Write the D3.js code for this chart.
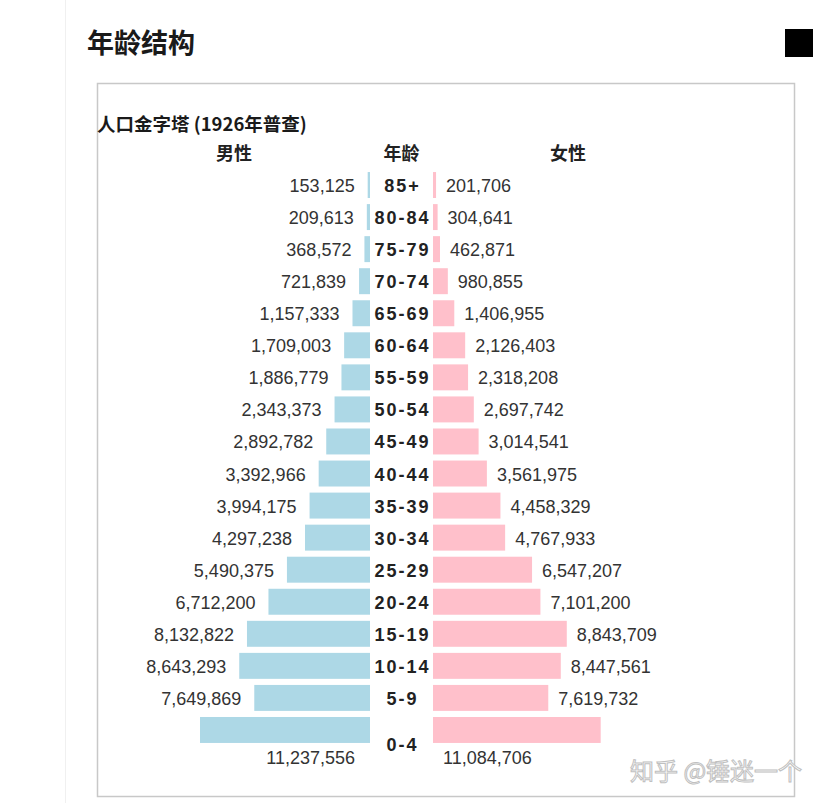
<!DOCTYPE html>
<html>
<head>
<meta charset="utf-8">
<script src="https://cdn.jsdelivr.net/npm/d3@7"></script>
<style>
  html, body { margin: 0; padding: 0; background: #fff; }
  svg { display: block; }
</style>
</head>
<body>
<svg id="chart" width="828" height="803"></svg>
<script>
const ages = ["85+","80-84","75-79","70-74","65-69","60-64","55-59","50-54","45-49","40-44","35-39","30-34","25-29","20-24","15-19","10-14","5-9","0-4"];
const male = [153125,209613,368572,721839,1157333,1709003,1886779,2343373,2892782,3392966,3994175,4297238,5490375,6712200,8132822,8643293,7649869,11237556];
const female = [201706,304641,462871,980855,1406955,2126403,2318208,2697742,3014541,3561975,4458329,4767933,6547207,7101200,8843709,8447561,7619732,11084706];
const pageTitle = "年龄结构";
const chartTitle = "人口金字塔 (1926年普查)";
const headers = ["男性", "年龄", "女性"];
const watermark = "知乎 @锤迷一个";

const FONT = "'Liberation Sans', 'Noto Sans CJK SC', sans-serif";
const CJK = "'Noto Sans CJK SC', 'Liberation Sans', sans-serif";

const svg = d3.select("#chart");

// faint page column line
svg.append("line").attr("x1", 65.5).attr("x2", 65.5).attr("y1", 0).attr("y2", 803)
  .attr("stroke", "#f0f0f0").attr("stroke-width", 1);

// page title
svg.append("text").attr("x", 87).attr("y", 53)
  .attr("font-family", CJK).attr("font-size", 27).attr("font-weight", 700)
  .attr("fill", "#1a1a1a").text(pageTitle);

// black square
svg.append("rect").attr("x", 785).attr("y", 29).attr("width", 28).attr("height", 28).attr("fill", "#000");

// box
svg.append("rect").attr("x", 97.5).attr("y", 83.5).attr("width", 697).attr("height", 713)
  .attr("fill", "none").attr("stroke", "#c8c8c8").attr("stroke-width", 1.5);

// chart title
svg.append("text").attr("x", 97).attr("y", 131)
  .attr("font-family", CJK).attr("font-size", 18.5).attr("font-weight", 700)
  .attr("fill", "#1a1a1a").text(chartTitle);

const maleEdge = 370, femaleEdge = 433, centerX = 401.5;
const xMale = d3.scaleLinear().domain([0, 11237556]).range([maleEdge, maleEdge - 170]);
const xFemale = d3.scaleLinear().domain([0, 11237556]).range([femaleEdge, femaleEdge + 170]);
const y = d3.scaleBand().domain(ages).range([169, 746]).paddingInner(0.19).paddingOuter(0.095);

// headers
const hx = [234, centerX, 568];
svg.selectAll("text.hdr").data(headers).enter().append("text").attr("class", "hdr")
  .attr("x", (d, i) => hx[i]).attr("y", 160).attr("text-anchor", "middle")
  .attr("font-family", CJK).attr("font-size", 18).attr("font-weight", 600)
  .attr("fill", "#222").text(d => d);

const rows = ages.map((a, i) => ({ age: a, m: male[i], f: female[i], last: i === ages.length - 1 }));
const fmt = d3.format(",");

const g = svg.append("g");
g.selectAll("rect.m").data(rows).enter().append("rect").attr("class", "m")
  .attr("x", d => xMale(d.m)).attr("width", d => maleEdge - xMale(d.m))
  .attr("y", d => y(d.age)).attr("height", y.bandwidth()).attr("fill", "#add8e6");
g.selectAll("rect.f").data(rows).enter().append("rect").attr("class", "f")
  .attr("x", femaleEdge).attr("width", d => xFemale(d.f) - femaleEdge)
  .attr("y", d => y(d.age)).attr("height", y.bandwidth()).attr("fill", "#ffc0cb");

const cy = d => y(d.age) + y.bandwidth() / 2;

// age labels
g.selectAll("text.age").data(rows).enter().append("text").attr("class", "age")
  .attr("x", centerX + 1).attr("y", d => d.last ? cy(d) + 21 : cy(d) + 7)
  .attr("text-anchor", "middle").attr("font-family", FONT).attr("font-size", 18).attr("font-weight", 700)
  .attr("letter-spacing", 2).attr("fill", "#222").text(d => d.age);

// male values
g.selectAll("text.mv").data(rows).enter().append("text").attr("class", "mv")
  .attr("x", d => d.last ? maleEdge - 15 : xMale(d.m) - 13)
  .attr("y", d => d.last ? cy(d) + 34 : cy(d) + 7)
  .attr("text-anchor", "end").attr("font-family", FONT).attr("font-size", 18)
  .attr("fill", "#333").text(d => fmt(d.m));

// female values
g.selectAll("text.fv").data(rows).enter().append("text").attr("class", "fv")
  .attr("x", d => d.last ? femaleEdge + 10 : xFemale(d.f) + 10)
  .attr("y", d => d.last ? cy(d) + 34 : cy(d) + 7)
  .attr("text-anchor", "start").attr("font-family", FONT).attr("font-size", 18)
  .attr("fill", "#333").text(d => fmt(d.f));

// watermark
svg.append("text").attr("x", 630).attr("y", 780)
  .attr("font-family", CJK).attr("font-size", 24)
  .attr("fill", "#fff").attr("stroke", "#c0c0c0").attr("stroke-width", 1)
  .text(watermark);
</script>
</body>
</html>
